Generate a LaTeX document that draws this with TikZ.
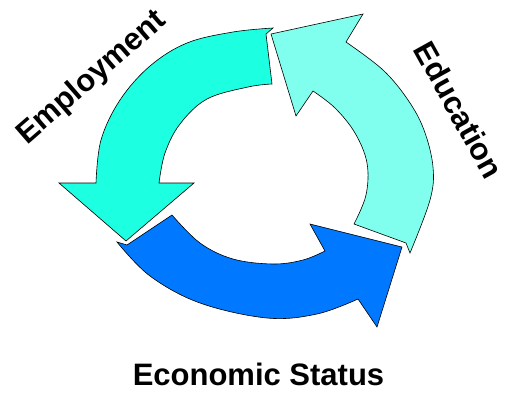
\documentclass[tikz,border=0pt]{standalone}
\usepackage{fontspec}
\setmainfont{Liberation Sans}
\definecolor{employc}{RGB}{28,255,224}
\definecolor{educc}{RGB}{128,255,238}
\definecolor{econc}{RGB}{0,120,255}
\begin{document}
\begin{tikzpicture}[x=1pt,y=-1pt,
  arrowshape/.style={draw=black,line width=0.6pt,line join=miter},
  lbl/.style={font=\fontsize{31}{31}\selectfont\bfseries,inner sep=0pt}]
\useasboundingbox (0,0) rectangle (509,392);
% Employment arrow
\coordinate (emTa) at (273,28);
\coordinate (emTn) at (266,34);
\coordinate (emTb) at (272,84);
\coordinate (emI5) at (159,183);
\coordinate (emBr) at (194,183);
\coordinate (emTip) at (126,241);
\coordinate (emBl) at (59,183);
\coordinate (emO1) at (96,183);
\fill[employc,arrowshape] (emTa) -- (emTn) -- (emTb)
  -- plot[smooth,tension=0.6] coordinates {(emTb) (248,87) (207,99) (180,124) (165,153) (emI5)}
  -- (emBr) -- (emTip) -- (emBl) -- (emO1)
  -- plot[smooth,tension=0.6] coordinates {(emO1) (101,140) (120,100) (150,66) (187,43) (233,32) (emTa)}
  -- cycle;
% Education arrow
\coordinate (edTi) at (354,224);
\coordinate (edTn) at (406,243);
\coordinate (edTo) at (410,253);
\coordinate (edO6) at (346,42);
\coordinate (edBt) at (363,14);
\coordinate (edTip) at (271,34);
\coordinate (edBb) at (296,116);
\coordinate (edI1) at (313,91);
\fill[educc,arrowshape] (edTi) -- (edTn) -- (edTo)
  -- plot[smooth,tension=0.6] coordinates {(edTo) (430,200) (433,167) (424,130) (408,100) (383,70) (edO6)}
  -- (edBt) -- (edTip) -- (edBb) -- (edI1)
  -- plot[smooth,tension=0.6] coordinates {(edI1) (335,108) (355,133) (367,163) (366,195) (edTi)}
  -- cycle;
% Economic Status arrow
\coordinate (ecTo) at (117,242);
\coordinate (ecTn) at (127,245);
\coordinate (ecTi) at (172,215);
\coordinate (ecI5) at (325,251);
\coordinate (ecBt) at (310,224);
\coordinate (ecTip) at (402,247);
\coordinate (ecBb) at (377,327);
\coordinate (ecO1) at (358,299);
\fill[econc,arrowshape] (ecTo) -- (ecTn) -- (ecTi)
  -- plot[smooth,tension=0.6] coordinates {(ecTi) (200,243) (233,259) (273,264) (303,260) (ecI5)}
  -- (ecBt) -- (ecTip) -- (ecBb) -- (ecO1)
  -- plot[smooth,tension=0.6] coordinates {(ecO1) (317,314) (267,318) (200,303) (150,276) (ecTo)}
  -- cycle;
% Labels
\node[lbl,rotate=41] (employment) at (92,78) {Employment};
\node[lbl,rotate=-61] (education) at (459,110) {Education};
\node[lbl,anchor=base] (economic) at (258.5,385) {Economic Status};
\end{tikzpicture}
\end{document}
